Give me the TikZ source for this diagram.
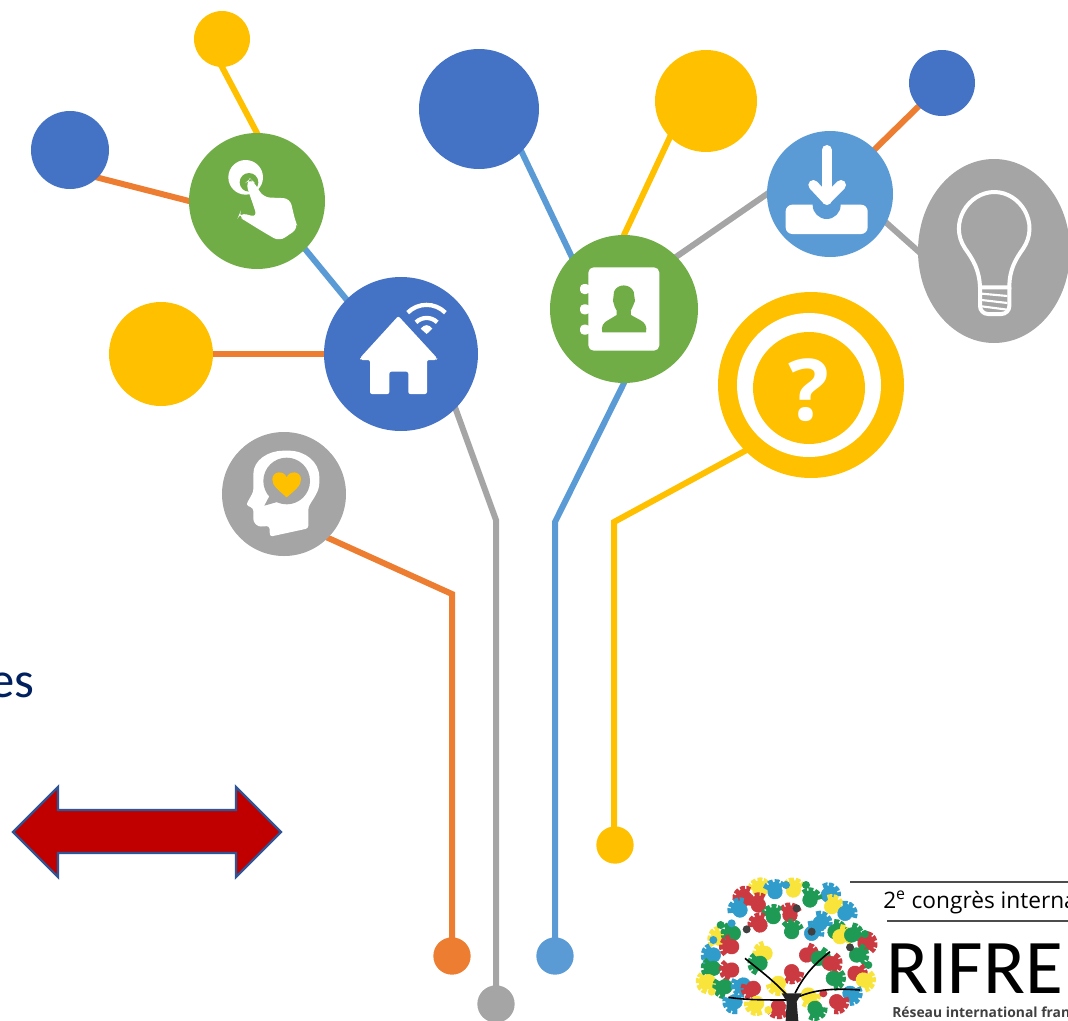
\documentclass[tikz,border=0pt]{standalone}
\usepackage{fontspec}
\setmainfont{Carlito}
\newfontfamily\logofont{Open Sans}
\usetikzlibrary{shapes.geometric,backgrounds}
\definecolor{mygreen}{HTML}{70AD47}
\definecolor{myblue}{HTML}{4472C4}
\definecolor{mysky}{HTML}{5B9BD5}
\definecolor{myyellow}{HTML}{FFC000}
\definecolor{mygray}{HTML}{A5A5A5}
\definecolor{myorange}{HTML}{ED7D31}
\definecolor{myred}{HTML}{C00000}
\definecolor{arrowedge}{HTML}{2F5597}
\definecolor{navytext}{HTML}{002060}
\definecolor{leafr}{HTML}{CB3A40}
\definecolor{leafb}{HTML}{2F9CCB}
\definecolor{leafg}{HTML}{1F9A55}
\definecolor{leafy}{HTML}{F8E43A}

\begin{document}
\begin{tikzpicture}[x=.75pt,y=-.75pt,
  disc/.style={circle,fill=#1,inner sep=0pt,outer sep=0pt},
  wire/.style={line width=4.5pt,draw=#1,shorten >=-2pt,shorten <=-2pt},
  zoomed/.style={x=.25pt,y=-.25pt},
  icon/.style={fill=white,draw=none},
  lampline/.style={draw=white,line width=3pt},
  leaf/.pic={
    \fill[pic actions] (0,0) circle (22);
    \draw[pic actions,line width=4.5pt,dash pattern=on 3.4pt off 1.1pt] (-65:29) arc (-65:65:29);
  }]

  \useasboundingbox (0,0) rectangle (1068,1021);
  \clip (0,0) rectangle (1068,1021);

  \node[disc=myyellow, minimum size=42pt] (topyellow) at (222,39) {};
  \node[disc=myblue, minimum size=58.5pt] (leftblue) at (70,150) {};
  \node[disc=mygreen, minimum size=102pt] (touch) at (257,201) {};
  \node[disc=myblue, minimum size=115.5pt] (home) at (401,354) {};
  \node[disc=myyellow, minimum size=78pt] (leftyellow) at (161,354) {};
  \node[disc=mygray, minimum size=93pt] (head) at (284,494) {};
  \node[disc=myblue, minimum size=90pt] (bigblue) at (479,109) {};
  \node[disc=myyellow, minimum size=76.5pt] (midyellow) at (706,101) {};
  \node[disc=mygreen, minimum size=111pt] (contact) at (624,309) {};
  \node[disc=mysky, minimum size=94.5pt] (download) at (830,194) {};
  \node[disc=myblue, minimum size=49.5pt] (smallblue) at (942,83) {};
  \node[ellipse,fill=mygray,inner sep=0pt,outer sep=0pt,minimum width=114pt,minimum height=138pt] (lamp) at (994,251) {};
  \node[disc=myyellow, minimum size=139.5pt] (ring) at (811,385) {};
  \node[disc=white, minimum size=108pt] (ringgap) at (809,385) {};
  \node[disc=myyellow, minimum size=84pt] (questionback) at (809,388) {};
  \node[inner sep=0pt, font=\fontsize{64}{64}\selectfont\logofont\bfseries, text=white] (question) at (809,390) {?};
  \node[disc=myorange, minimum size=28pt] (orangeend) at (452,956) {};
  \node[disc=mygray, minimum size=28pt] (grayend) at (496,1004) {};
  \node[disc=mysky, minimum size=28pt] (skyend) at (555,956) {};
  \node[disc=myyellow, minimum size=28pt] (yellowend) at (615,845) {};

  \coordinate (orangebend) at (452,594);
  \coordinate (graybend) at (496,520);
  \coordinate (skybend) at (555,522);
  \coordinate (yellowbend) at (614,522);

  \begin{scope}[on background layer]
    \draw[wire=myyellow] (topyellow.south) -- (touch.north);
    \draw[wire=myorange] (leftblue.-45) -- (touch.west);
    \draw[wire=mysky] (touch.-45) -- (home.135);
    \draw[wire=myorange] (leftyellow.east) -- (home.west);
    \draw[wire=mysky] (bigblue.-45) -- (contact.135);
    \draw[wire=myyellow] (midyellow.225) -- (contact.north);
    \draw[wire=mygray] (contact.45) -- (download.west);
    \draw[wire=myorange] (download.45) -- (smallblue.225);
    \draw[wire=mygray] (download.-27) -- (lamp.west);
    \draw[wire=myorange] (head.-45) -- (orangebend) -- (orangeend.north);
    \draw[wire=mygray] (home.-45) -- (graybend) -- (grayend.north);
    \draw[wire=mysky] (contact.south) -- (skybend) -- (skyend.north);
    \draw[wire=myyellow] (ring.225) -- (yellowbend) -- (yellowbend |- yellowend.north);
  \end{scope}

  % touch and home
  \begin{scope}[shift={(180,120)},zoomed]
    \fill[white] (197,172) circle (52);
    \fill[mygreen] (207,187) circle (28);
    \fill[icon,rounded corners=5pt] (197,188) -- (210,176) -- (222,186) -- (250,232) -- (330,235)
      -- (345,300) -- (355,325) -- (298,364) -- (240,330) -- (200,305) -- (175,290) -- (180,278)
      -- (232,292) -- cycle;
    \fill[icon,rounded corners=1.5pt] (655,588) -- (772,715) -- (770,720) -- (741,720) -- (741,822) -- (685,822)
      -- (685,755) -- (628,755) -- (628,822) -- (570,822) -- (570,720) -- (541,720) -- (540,714) -- cycle;
    \draw[white,line width=3.2pt] (683,578) arc (-135:-45:80);
    \draw[white,line width=3.2pt] (708,607) arc (-135:-45:45);
    \fill[white] (722,626) .. controls (733,612) and (747,612) .. (757,626) -- (740,642) -- cycle;
  \end{scope}

  % contact, download and lamp
  \begin{scope}[shift={(540,120)},zoomed]
    \fill[white,rounded corners=4pt] (145,442) rectangle (358,692);
    \foreach \tabtop in {492,553,614}
      \fill[white,rounded corners=3pt] (120,\tabtop) rectangle (150,\tabtop+30);
    \fill[mygreen] (187,637) .. controls (182,620) and (190,607) .. (205,600) -- (230,585)
      .. controls (232,575) and (230,568) .. (224,560) -- (219,543) -- (222,515)
      .. controls (232,490) and (270,490) .. (281,515) -- (285,543) -- (278,560)
      .. controls (272,568) and (270,575) .. (273,585) -- (300,600)
      .. controls (315,607) and (322,620) .. (318,637) -- cycle;
    \fill[white,rounded corners=5pt] (737,254) rectangle (983,342);
    \fill[mysky] (860,255) circle (42);
    \draw[white,line width=7.5pt,line cap=round] (860,90) -- (860,240);
    \draw[white,line width=7.5pt,line cap=round,line join=round] (820,195) -- (860,238) -- (903,195);
    \draw[lampline] (1320,502) .. controls (1318,450) and (1300,420) .. (1275,385)
      .. controls (1225,310) and (1285,216) .. (1363,216)
      .. controls (1441,216) and (1500,310) .. (1450,385)
      .. controls (1425,420) and (1408,450) .. (1408,502) -- cycle;
    \draw[lampline,rounded corners=6pt] (1320,502) -- (1320,582) -- (1408,582) -- (1408,502);
    \draw[white,line width=1.6pt] (1325,521) -- (1402,528);
    \draw[white,line width=1.6pt] (1325,540) -- (1402,549);
    \draw[white,line width=1.6pt] (1325,559) -- (1402,569);
  \end{scope}

  % thinking head
  \begin{scope}[shift={(210,420)},zoomed]
    \fill[white,rounded corners=2pt] (130,170) .. controls (130,120) and (175,92) .. (228,92)
      .. controls (285,92) and (328,125) .. (328,180) .. controls (328,215) and (310,235) .. (295,262)
      -- (295,325) -- (180,350) -- (178,318) -- (145,320) -- (130,305) -- (130,265) -- (108,255) -- (130,215) -- cycle;
    \fill[mygray] (230,183) circle (70);
    \fill[mygray] (180,225) -- (163,257) -- (205,245) -- cycle;
    \fill[myyellow] (230,232) .. controls (205,210) and (187,198) .. (187,178)
      .. controls (187,153) and (222,150) .. (230,172)
      .. controls (238,150) and (273,153) .. (273,178)
      .. controls (273,198) and (255,210) .. (230,232) -- cycle;
  \end{scope}

  \node[anchor=base east,inner sep=0pt,text=navytext,font=\fontsize{38}{40}\selectfont] (word) at (35,697) {es};

  \path[fill=myred,draw=arrowedge,line width=1.8pt] (13,832) -- (58,787) -- (58,810) -- (236,810) -- (236,787)
    -- (281,832) -- (236,877) -- (236,853) -- (58,853) -- (58,877) -- cycle;

  % logo, tree made of hands
  \begin{scope}[shift={(680,860)},zoomed]
    \foreach \px/\py/\tone in {
      240/90/leafy,340/90/leafy,195/115/leafr,285/95/leafb,445/105/leafb,235/135/leafr,455/140/leafy,180/150/leafb,
      390/120/leafg,495/160/leafb,120/235/leafy,330/165/leafr,280/170/leafg,160/220/leafg,100/285/leafb,240/195/leafr,
      420/190/leafb,335/215/leafg,395/220/leafb,465/215/leafg,480/230/leafy,515/225/leafg,555/250/leafr,155/260/leafr,
      255/280/leafy,530/285/leafg,100/325/leafg,85/365/leafy,155/330/leafr,240/310/leafg,380/285/leafr,415/295/leafg,
      335/335/leafr,450/310/leafr,525/340/leafr,550/360/leafy,135/380/leafg,190/375/leafb,220/385/leafr,295/370/leafy,
      460/355/leafg,510/400/leafb,165/425/leafb,230/430/leafy,295/440/leafr,385/405/leafy,405/445/leafg,470/425/leafr}
    {
      \pgfmathsetmacro\turn{atan2(300-\py,\px-320)}
      \pic[fill=\tone,draw=\tone,rotate=\turn] at (\px,\py) {leaf};
    }
    \foreach \px/\py/\tone in {378/75/leafg,122/195/leafg,565/315/leafg,555/222/leafg,318/75/leafb,155/190/leafb,
      100/240/leafb,95/395/leafy,265/450/leafy,200/208/black!75,395/215/black!75,350/145/black!75,510/262/black!75,430/400/leafr}
      \fill[\tone] (\px,\py) circle (12);
    \draw[black,line width=1.2pt] (335,420) .. controls (250,420) and (200,420) .. (145,412);
    \draw[black,line width=1.2pt] (335,420) .. controls (280,360) and (250,340) .. (195,295);
    \draw[black,line width=1.2pt] (335,420) .. controls (400,385) and (470,385) .. (540,390);
    \draw[black,line width=1.2pt] (345,400) .. controls (380,330) and (420,300) .. (450,275);
    \fill[black!85] (317,483) -- (320,425) -- (305,400) -- (365,400) -- (350,425) -- (355,483) -- cycle;
  \end{scope}

  \coordinate (ruleonestart) at (850,882);
  \coordinate (ruleoneend) at (1068,882);
  \coordinate (ruletwostart) at (887,921);
  \coordinate (ruletwoend) at (1068,921);
  \draw[black!70,line width=1.2pt] (ruleonestart) -- (ruleoneend);
  \draw[black!70,line width=1.2pt] (ruletwostart) -- (ruletwoend);
  \node[anchor=base west,inner sep=0pt,font=\fontsize{17}{20}\selectfont\logofont] (congress) at (883,908) {2\textsuperscript{e} congrès interna};
  \node[anchor=base west,inner sep=0pt,font=\fontsize{58}{60}\selectfont] (rifre) at (886,993) {RIFRE};
  \node[anchor=base west,inner sep=0pt,text=black!75,font=\fontsize{10.4}{12}\selectfont\logofont\bfseries] (network) at (892,1017) {Réseau international fran};
\end{tikzpicture}
\end{document}
